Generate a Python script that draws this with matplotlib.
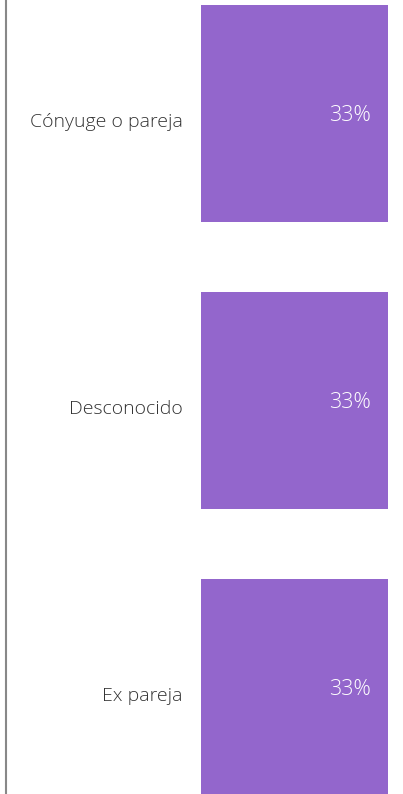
import matplotlib
matplotlib.use("Agg")
import matplotlib.pyplot as plt
from matplotlib.lines import Line2D

categories = ["Cónyuge o pareja", "Desconocido", "Ex pareja"]
values = [33, 33, 33]
value_labels = ["33%", "33%", "33%"]

W, H = 403, 794
FONT = ["Open Sans", "DejaVu Sans"]
fig = plt.figure(figsize=(W / 100, H / 100), dpi=100)
ax = fig.add_axes([201 / W, 0, (388 - 201) / W, 1])
ypos = list(range(len(categories)))
ax.barh(ypos, values, height=0.756, color="#9366CC")
ax.set_xlim(0, 33)
ax.set_ylim(2 + (794 - 687.5) / 287, -113.5 / 287)
for s in ax.spines.values():
    s.set_visible(False)
ax.set_xticks([])
ax.set_yticks([])
for y, c in zip(ypos, categories):
    ax.annotate(c, xy=(0, y), xytext=(-18, -13), textcoords="offset pixels", ha="right", va="baseline",
                color="#333333", fontsize=14, family=FONT, fontweight="light")
for y, v, t in zip(ypos, values, value_labels):
    ax.annotate(t, xy=(v, y), xytext=(-17, -7), textcoords="offset pixels", ha="right", va="baseline",
                color="white", fontsize=15.5, family=FONT, fontweight="light")
fig.add_artist(Line2D([6 / W, 6 / W], [0, 1], color="#888888", linewidth=1.5, transform=fig.transFigure))
fig.savefig("out.png", dpi=100)
